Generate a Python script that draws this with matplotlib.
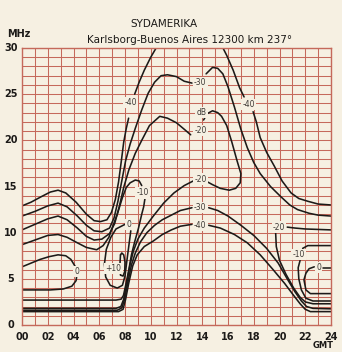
import matplotlib
matplotlib.use("Agg")
import matplotlib.pyplot as plt

BG = "#f6f0e2"
GRID = "#c5695b"
INK = "#1c1a18"

# hours (GMT) and frequencies (MHz), one list pair per curve segment
m40_top_a_h = [0, 0.7, 1.5, 2.2, 2.8, 3.4, 4.2, 5.0, 5.6, 6.1, 6.6, 6.95, 7.25, 7.5, 7.7, 7.9, 8.1, 8.28]
m40_top_a_f = [12.9, 13.3, 13.9, 14.4, 14.6, 14.3, 13.3, 12.0, 11.3, 11.2, 11.4, 12.2, 13.6, 15.5, 17.6, 19.8, 21.3, 22.4]
m40_top_b_h = [8.75, 9.1, 9.5, 10.0, 10.5, 10.8]
m40_top_b_f = [25.0, 26.3, 27.6, 29.0, 30.2, 31.0]
m40_top_c_h = [15.3, 15.5, 15.9, 16.4, 16.9, 17.25]
m40_top_c_f = [31.0, 30.3, 29.2, 27.6, 25.7, 24.7]
m40_top_d_h = [17.95, 18.2, 18.5, 19.0, 19.6, 20.2, 20.9, 21.5, 22.2, 23.0, 24.0]
m40_top_d_f = [23.1, 22.0, 20.3, 18.7, 17.2, 15.6, 14.3, 13.7, 13.4, 13.1, 13.0]

m30_top_a_h = [0, 1, 2, 2.8, 3.5, 4.3, 5.0, 5.6, 6.2, 6.8, 7.15, 7.45, 7.75, 8.05, 8.4, 8.8, 9.3, 9.8, 10.3, 10.8, 11.3, 12.0, 12.6, 13.2]
m30_top_a_f = [11.8, 12.3, 12.9, 13.2, 12.8, 11.8, 10.8, 10.2, 10.1, 10.5, 11.6, 13.4, 15.6, 17.8, 19.6, 21.3, 23.3, 25.1, 26.3, 27.0, 27.1, 26.9, 26.4, 26.2]
m30_top_b_h = [14.3, 14.8, 15.2, 15.6, 16.0, 16.5, 17.0, 17.5, 18.0, 18.5, 19.3, 20.1, 20.8, 21.4, 22.3, 23.0, 24.0]
m30_top_b_f = [27.2, 27.9, 27.8, 27.2, 25.8, 23.6, 21.2, 19.2, 17.6, 16.4, 15.0, 13.9, 13.0, 12.5, 12.1, 11.9, 11.8]

m20_a_h = [0, 1, 2, 2.8, 3.5, 4.3, 5.0, 5.6, 6.2, 6.8, 7.2, 7.55, 7.9, 8.3, 8.8, 9.3, 9.9, 10.7, 11.3, 12.0, 12.6, 13.1]
m20_a_f = [10.3, 10.9, 11.5, 11.8, 11.4, 10.5, 9.6, 9.2, 9.3, 9.9, 11.0, 12.8, 14.9, 16.8, 18.6, 20.0, 21.6, 22.6, 22.4, 21.9, 21.2, 20.6]
m20_b_h = [14.1, 14.4, 14.8, 15.2, 15.5, 15.9, 16.3, 16.7, 17.0, 16.95, 16.6, 16.1, 15.4, 14.8, 14.4]
m20_b_f = [22.2, 22.9, 23.2, 23.0, 22.6, 21.6, 19.8, 17.8, 16.4, 15.4, 14.8, 14.6, 14.8, 15.2, 15.5]
m20_c_h = [13.3, 12.6, 11.8, 11.0, 10.2, 9.5, 9.0, 8.65, 8.4, 8.14, 7.9, 7.68, 7.3, 0]
m20_c_f = [15.6, 15.1, 14.3, 13.2, 11.8, 10.5, 9.3, 8.0, 6.6, 4.6, 2.8, 2.0, 1.8, 1.8]

m30_low_a_h = [0, 7.4, 7.75, 7.97, 8.22, 8.5, 8.8, 9.2, 9.7, 10.3, 10.9, 11.6, 12.3, 13.2]
m30_low_a_f = [1.6, 1.6, 1.85, 2.8, 4.6, 6.5, 7.8, 9.0, 10.0, 10.8, 11.4, 11.9, 12.4, 12.7]
m30_low_b_h = [14.5, 15.2, 16.0, 17.0, 18.0, 19.0, 19.9, 20.6, 21.2, 21.7, 22.1, 22.6, 24.0]
m30_low_b_f = [12.7, 12.4, 11.8, 10.8, 9.7, 8.3, 6.7, 5.0, 3.6, 2.6, 2.0, 1.8, 1.75]

m40_low_a_h = [0, 7.5, 7.85, 8.05, 8.3, 8.6, 8.95, 9.5, 10.2, 10.9, 11.6, 12.3, 13.2]
m40_low_a_f = [1.45, 1.45, 1.7, 2.8, 4.6, 6.4, 7.6, 8.5, 9.1, 9.8, 10.3, 10.7, 10.9]
m40_low_b_h = [14.5, 15.4, 16.5, 17.5, 18.5, 19.5, 20.4, 21.1, 21.6, 22.0, 22.4, 24.0]
m40_low_b_f = [10.8, 10.5, 9.8, 8.9, 7.6, 6.0, 4.5, 3.2, 2.3, 1.7, 1.45, 1.45]

m10_left_a_h = [0, 1, 2, 2.8, 3.5, 4.3, 5.0, 5.8, 6.3, 6.75, 7.0, 7.4, 7.8, 8.1, 8.4, 8.8, 9.1, 9.3]
m10_left_a_f = [8.7, 9.2, 9.7, 9.8, 9.5, 8.9, 8.4, 8.15, 8.6, 9.5, 10.5, 12.0, 13.8, 14.9, 15.4, 15.7, 15.6, 15.1]
m10_left_b_h = [9.55, 9.45, 9.3, 9.05, 8.75, 8.5, 8.3, 8.1, 7.88, 7.7, 7.3, 0]
m10_left_b_f = [13.7, 12.8, 12.0, 10.5, 9.0, 7.6, 6.0, 4.6, 3.2, 2.8, 2.7, 2.7]

zero_left_a_h = [0, 0.7, 1.4, 2.1, 2.8, 3.4, 3.8, 4.15]
zero_left_a_f = [6.3, 6.7, 7.1, 7.4, 7.6, 7.5, 7.1, 6.3]
zero_left_b_h = [4.25, 4.2, 3.87, 3.2, 2.2, 1.0, 0]
zero_left_b_f = [5.3, 4.8, 4.2, 3.9, 3.8, 3.8, 3.8]

zero_mid_h = [8.0, 7.3, 6.9, 6.55, 6.4, 6.5, 6.85, 7.4, 7.8, 8.0, 8.15, 8.3, 8.45]
zero_mid_f = [10.9, 10.4, 9.5, 8.2, 6.6, 5.2, 4.3, 4.0, 4.3, 5.3, 7.0, 8.6, 10.2]

p10_loop_h = [7.65, 7.75, 7.9, 8.0, 7.98, 7.85, 7.65, 7.6, 7.65]
p10_loop_f = [7.6, 7.8, 7.6, 6.8, 5.8, 5.3, 5.4, 6.4, 7.6]

m20_right_a_h = [24.0, 23.0, 22.0, 21.2, 20.6]
m20_right_a_f = [10.3, 10.35, 10.4, 10.5, 10.6]
m20_right_b_h = [19.7, 19.75, 20.0, 20.5, 21.1, 21.6, 22.0, 22.6, 24.0]
m20_right_b_f = [10.0, 8.5, 7.0, 5.5, 4.0, 3.0, 2.5, 2.3, 2.3]

m10_right_a_h = [24.0, 23.0, 22.2, 21.8]
m10_right_a_f = [8.6, 8.6, 8.6, 8.3]
m10_right_b_h = [21.6, 21.45, 21.5, 21.7, 22.05, 22.6, 24.0]
m10_right_b_f = [7.0, 6.2, 5.0, 3.8, 2.9, 2.6, 2.6]

zero_right_a_h = [24.0, 23.4]
zero_right_a_f = [6.2, 6.2]
zero_right_b_h = [22.7, 22.3, 22.05, 21.9, 22.05, 22.4, 23.0, 24.0]
zero_right_b_f = [6.3, 6.1, 5.6, 4.9, 3.8, 3.4, 3.4, 3.4]

# contour labels: text, hour, MHz
lab_text = ["-40", "-30", "-20", "dB", "-40", "-20", "-30", "-40", "-10", "0", "+10", "0",
            "-20", "-10", "0"]
lab_h = [8.45, 13.85, 13.85, 13.95, 17.6, 13.85, 13.85, 13.85, 9.35, 8.28, 7.1, 4.26,
         19.95, 21.5, 23.05]
lab_f = [24.1, 26.3, 21.1, 23.0, 23.9, 15.8, 12.7, 10.8, 14.3, 10.9, 6.1, 5.8,
         10.6, 7.6, 6.2]

segments = [
    (m40_top_a_h, m40_top_a_f), (m40_top_b_h, m40_top_b_f), (m40_top_c_h, m40_top_c_f),
    (m40_top_d_h, m40_top_d_f), (m30_top_a_h, m30_top_a_f), (m30_top_b_h, m30_top_b_f),
    (m20_a_h, m20_a_f), (m20_b_h, m20_b_f), (m20_c_h, m20_c_f),
    (m30_low_a_h, m30_low_a_f), (m30_low_b_h, m30_low_b_f),
    (m40_low_a_h, m40_low_a_f), (m40_low_b_h, m40_low_b_f),
    (m10_left_a_h, m10_left_a_f), (m10_left_b_h, m10_left_b_f),
    (zero_left_a_h, zero_left_a_f), (zero_left_b_h, zero_left_b_f),
    (zero_mid_h, zero_mid_f), (p10_loop_h, p10_loop_f),
    (m20_right_a_h, m20_right_a_f), (m20_right_b_h, m20_right_b_f),
    (m10_right_a_h, m10_right_a_f), (m10_right_b_h, m10_right_b_f),
    (zero_right_a_h, zero_right_a_f), (zero_right_b_h, zero_right_b_f),
]

x_ticks = list(range(0, 25, 2))
y_ticks = list(range(0, 31, 5))

fig = plt.figure(figsize=(3.42, 3.52), dpi=100, facecolor=BG)
ax = fig.add_axes([22 / 342, 1 - 325 / 352, 309 / 342, 277 / 352], facecolor=BG)

ax.set_xlim(0, 24)
ax.set_ylim(0, 30)
ax.set_xticks(range(0, 25))
ax.set_yticks(range(0, 31))
ax.grid(True, color=GRID, lw=0.75)
ax.set_axisbelow(True)
ax.tick_params(length=0, labelleft=False, labelbottom=False)
for sp in ax.spines.values():
    sp.set_color(GRID)
    sp.set_linewidth(1.0)

for hh, ff in segments:
    ax.plot(hh, ff, color=INK, lw=1.15, solid_capstyle="round", solid_joinstyle="round")

for t, hh, ff in zip(lab_text, lab_h, lab_f):
    ax.text(hh, ff, t, fontsize=5.5, color="#3d3935", ha="center", va="center",
            bbox=dict(boxstyle="square,pad=0.15", fc=BG, ec="none"), zorder=5)

for x in x_ticks:
    ax.text(x, -1.3, f"{x:02d}", fontsize=7, color=INK, ha="center", va="center",
            fontweight="bold", clip_on=False)
for y in y_ticks:
    ax.text(-0.85, y, str(y), fontsize=7, color=INK, ha="center", va="center",
            fontweight="bold", clip_on=False)

fig.text(19 / 342, 1 - 34 / 352, "MHz", fontsize=7, color=INK, ha="center", va="center",
         fontweight="bold")
fig.text(323 / 342, 1 - 346 / 352, "GMT", fontsize=6, color=INK, ha="center", va="center",
         fontweight="bold")
fig.text(164 / 342, 1 - 24 / 352, "SYDAMERIKA", fontsize=7.5, color=INK, ha="center",
         va="center")
fig.text(190 / 342, 1 - 40 / 352, "Karlsborg-Buenos Aires 12300 km 237°", fontsize=7.5,
         color=INK, ha="center", va="center")

fig.savefig("out.png", dpi=100, facecolor=BG)
